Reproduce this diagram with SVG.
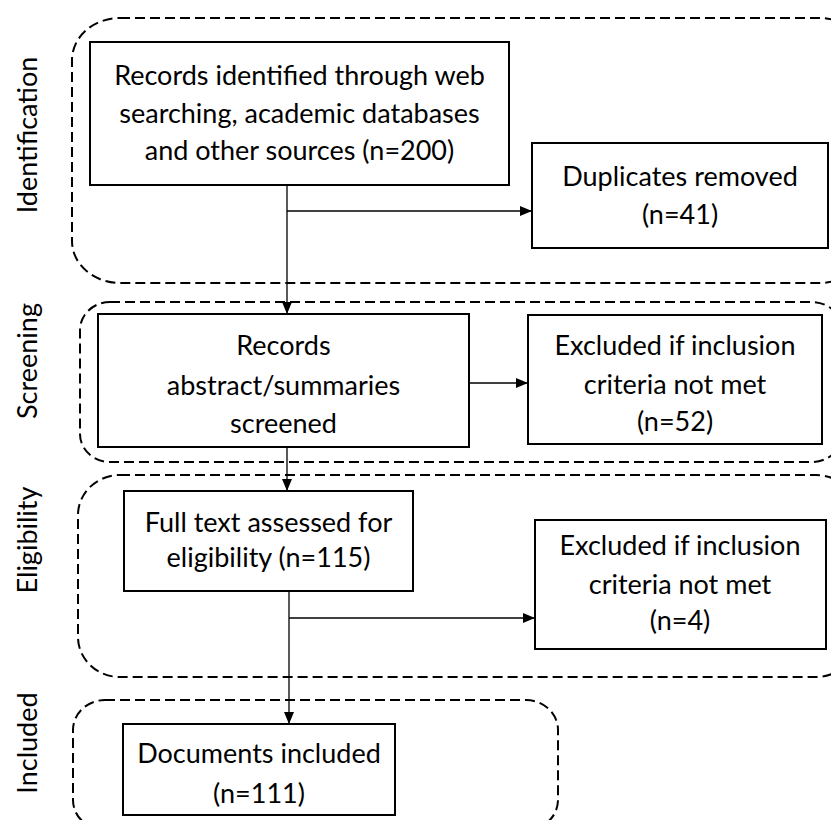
<svg xmlns="http://www.w3.org/2000/svg" width="831" height="820" viewBox="0 0 831 820">
<style>
.t{font-family:Lato,"Open Sans","Liberation Sans",sans-serif;font-size:27px;fill:#000;text-anchor:middle}
.box{fill:#fff;stroke:#000;stroke-width:2}
.grp{fill:none;stroke:#000;stroke-width:2;stroke-dasharray:10 5}
.ln{fill:none;stroke:#000;stroke-width:1.3}
</style>
<defs>
<marker id="ah" viewBox="0 0 12 10" refX="12" refY="5" markerWidth="12" markerHeight="10" markerUnits="userSpaceOnUse" orient="auto">
<path d="M0,0 L12,5 L0,10 Z" fill="#000"/>
</marker>
</defs>
<rect width="831" height="820" fill="#fff"/>
<g id="regions">
<rect class="grp" x="72" y="18" width="795" height="265" rx="48" ry="42"/>
<rect class="grp" x="80" y="302" width="762" height="160" rx="30" ry="28"/>
<rect class="grp" x="78" y="475" width="780" height="202" rx="42" ry="40"/>
<rect class="grp" x="73" y="700" width="485" height="130" rx="32" ry="30"/>
</g>
<g id="labels">
<text class="t" transform="translate(37,135) rotate(-90)">Identification</text>
<text class="t" transform="translate(37,361) rotate(-90)">Screening</text>
<text class="t" transform="translate(37,540) rotate(-90)">Eligibility</text>
<text class="t" transform="translate(37,743) rotate(-90)">Included</text>
</g>
<g id="connectors">
<line class="ln" x1="287" y1="185" x2="287" y2="314" marker-end="url(#ah)"/>
<line class="ln" x1="287" y1="211" x2="532" y2="211" marker-end="url(#ah)"/>
<line class="ln" x1="469" y1="383" x2="528" y2="383" marker-end="url(#ah)"/>
<line class="ln" x1="287" y1="447" x2="287" y2="491" marker-end="url(#ah)"/>
<line class="ln" x1="289" y1="591" x2="289" y2="724" marker-end="url(#ah)"/>
<line class="ln" x1="289" y1="618" x2="535" y2="618" marker-end="url(#ah)"/>
</g>
<g id="n1">
<rect class="box" x="90" y="42" width="419" height="143"/>
<text class="t" x="299.5" y="85">Records identified through web</text>
<text class="t" x="299.5" y="123">searching, academic databases</text>
<text class="t" x="299.5" y="160">and other sources (n=200)</text>
</g>
<g id="n2">
<rect class="box" x="532" y="143" width="296" height="105"/>
<text class="t" x="680" y="186">Duplicates removed</text>
<text class="t" x="680" y="224">(n=41)</text>
</g>
<g id="n3">
<rect class="box" x="98" y="314" width="371" height="133"/>
<text class="t" x="283.5" y="355">Records</text>
<text class="t" x="283.5" y="395">abstract/summaries</text>
<text class="t" x="283.5" y="433">screened</text>
</g>
<g id="n4">
<rect class="box" x="528" y="315" width="294" height="129"/>
<text class="t" x="675" y="355">Excluded if inclusion</text>
<text class="t" x="675" y="394">criteria not met</text>
<text class="t" x="675" y="431">(n=52)</text>
</g>
<g id="n5">
<rect class="box" x="124" y="491" width="289" height="100"/>
<text class="t" x="268.5" y="532">Full text assessed for</text>
<text class="t" x="268.5" y="567">eligibility (n=115)</text>
</g>
<g id="n6">
<rect class="box" x="535" y="520" width="291" height="129"/>
<text class="t" x="680" y="555">Excluded if inclusion</text>
<text class="t" x="680" y="594">criteria not met</text>
<text class="t" x="680" y="630">(n=4)</text>
</g>
<g id="n7">
<rect class="box" x="123" y="724" width="272" height="91"/>
<text class="t" x="259" y="763">Documents included</text>
<text class="t" x="259" y="803">(n=111)</text>
</g>
</svg>
